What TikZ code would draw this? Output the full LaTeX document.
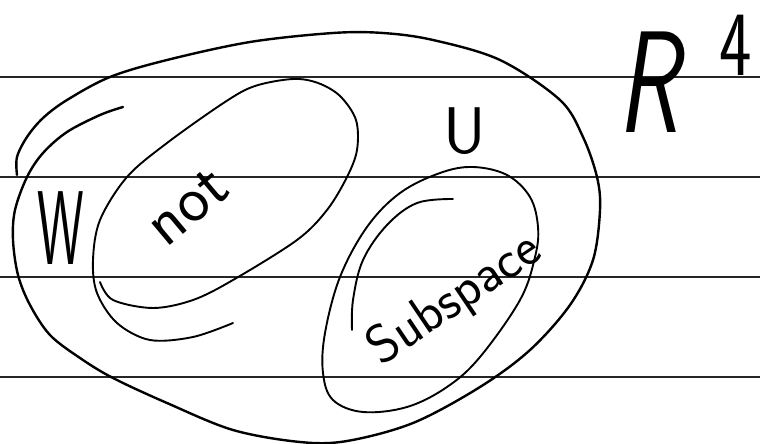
\documentclass[tikz,border=0pt]{standalone}
\usepackage{fontspec}
\begin{document}
\begin{tikzpicture}[x=1pt,y=-1pt,
  ruled/.style={line width=1.1pt, draw=black!85},
  ink/.style={line width=1.9pt, line cap=round, line join=round},
  thickink/.style={line width=2.4pt, line cap=round, line join=round},
  hand/.style={font=\sffamily, inner sep=0pt}]
\useasboundingbox (0,0) rectangle (760,444);
\fill[white] (0,0) rectangle (760,444);
\foreach \yy in {77,177,277,377} \draw[ruled] (0,\yy) -- (760,\yy);
% outer loop (R^4)
\draw[thickink] plot[smooth, tension=0.55] coordinates {
 (123,107) (100,115) (67,132) (43,153) (27,177) (15,210) (13,240) (18,275)
 (30,305) (50,335) (80,358) (113,378) (167,403) (233,430) (300,442) (347,441)
 (413,423) (480,387) (530,350) (570,305) (593,260) (600,210) (597,177)
 (583,137) (560,100) (500,60) (433,40) (383,33) (333,33) (250,42) (167,60)
 (110,77) (67,100) (43,118) (27,137) (17,157) (17,175)};
% W "not" loop
\draw[ink] plot[smooth, tension=0.55] coordinates {
 (100,282) (113,300) (153,308) (193,300) (233,280) (297,240) (327,210)
 (347,177) (357,150) (356,120) (340,96) (318,83) (293,79) (255,86) (225,102)
 (167,143) (127,177) (100,220) (93,260) (97,293) (117,323) (150,340)
 (193,337) (233,323)};
% U subspace loop
\draw[ink] plot[smooth cycle, tension=0.6] coordinates {
 (473,167) (507,175) (530,197) (538,227) (535,257) (520,300) (480,357)
 (447,387) (407,407) (363,412) (333,400) (323,373) (325,333) (340,277)
 (367,227) (400,193) (440,173)};
% inner arc of U
\draw[ink] plot[smooth, tension=0.6] coordinates {
 (453,199) (417,203) (387,225) (363,260) (353,300) (352,330)};
% labels
\node[hand, xscale=0.5] (w) at (61,228) {\fontsize{105}{105}\selectfont W};
\node[hand, rotate=40] (nt) at (188,207) {\fontsize{66}{66}\selectfont not};
\node[hand] (u) at (465,131) {\fontsize{66}{66}\selectfont U};
\node[hand, rotate=34] (sub) at (455,300) {\fontsize{54}{54}\selectfont Subspace};
\node[hand, xscale=0.7] (r) at (648,82) {\fontsize{145}{145}\selectfont\itshape R};
\node[hand, xscale=0.75] (four) at (736,45) {\fontsize{92}{92}\selectfont 4};
\end{tikzpicture}
\end{document}
